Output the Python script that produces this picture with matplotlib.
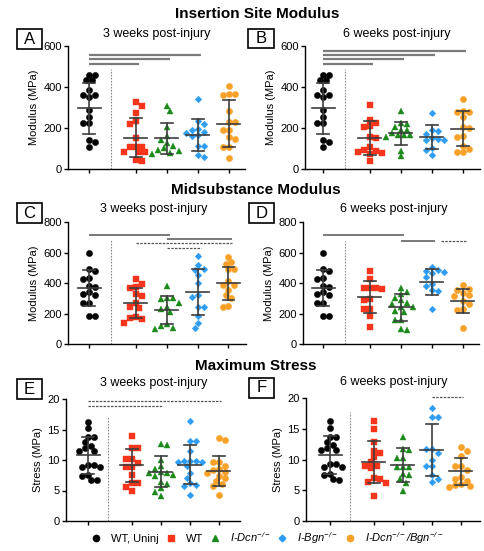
import numpy as np
import matplotlib.pyplot as plt
from matplotlib.lines import Line2D
from matplotlib.patches import Rectangle

plt.rcParams['font.family'] = ['Liberation Sans', 'DejaVu Sans']
plt.rcParams['mathtext.default'] = 'regular'

# ---------------- data ----------------
groups = ['WT, Uninj', 'WT', 'I-Dcn$^{-/-}$', 'I-Bgn$^{-/-}$', 'I-Dcn$^{-/-}$/Bgn$^{-/-}$']
colors = ['#000000', '#f7351c', '#1b8a1b', '#2d9cf2', '#f8a128']
markers = ['o', 's', '^', 'D', 'o']

# insertion site modulus (MPa)
ins_uninj = [460, 460, 433, 433, 384, 351, 362, 362, 286, 256, 225, 225, 142, 109, 131]
ins3_wt = [327, 307, 273, 219, 235, 150, 109, 106, 109, 85, 85, 85, 41, 46]
ins3_dcn = [307, 282, 206, 160, 140, 125, 110, 100, 95, 90, 80, 75]
ins3_bgn = [341, 233, 220, 196, 190, 180, 175, 165, 160, 114, 114, 69, 57]
ins3_dko = [405, 362, 367, 367, 282, 227, 227, 188, 188, 147, 155, 106, 109, 52]
ins6_wt = [310, 240, 225, 210, 205, 150, 155, 105, 95, 88, 85, 78, 75, 40]
ins6_dcn = [285, 225, 218, 205, 192, 190, 178, 168, 165, 165, 155, 90, 62]
ins6_bgn = [274, 192, 185, 170, 150, 145, 142, 140, 100, 95, 68]
ins6_dko = [340, 253, 278, 281, 278, 204, 201, 160, 155, 114, 85, 85, 98]
ins3_mean = [296, 153, 149, 168, 220]
ins3_sd = [125, 94, 77, 78, 115]
ins6_mean = [296, 150, 174, 157, 196]
ins6_sd = [125, 82, 57, 59, 85]

# midsubstance modulus (MPa)
mid_uninj = [597, 477, 490, 423, 433, 375, 383, 340, 320, 325, 266, 266, 183, 183]
mid3_wt = [423, 392, 371, 365, 331, 314, 266, 240, 233, 174, 170, 165, 140]
mid3_dcn = [382, 299, 295, 299, 270, 245, 230, 211, 130, 118, 96, 102]
mid3_bgn = [576, 517, 484, 495, 451, 400, 320, 310, 244, 244, 185, 135, 102]
mid3_dko = [571, 538, 527, 490, 490, 414, 385, 385, 352, 320, 300, 244, 248]
mid6_wt = [477, 428, 365, 365, 368, 362, 295, 290, 230, 228, 183, 113]
mid6_dcn = [370, 340, 330, 300, 290, 270, 265, 245, 240, 215, 210, 155, 155, 92, 98]
mid6_bgn = [505, 488, 480, 470, 466, 440, 395, 380, 353, 345, 227]
mid6_dko = [385, 360, 355, 320, 318, 335, 280, 262, 220, 228, 105]
mid3_mean = [367, 271, 222, 341, 398]
mid3_sd = [120, 98, 93, 153, 107]
mid6_mean = [367, 310, 240, 407, 282]
mid6_sd = [120, 104, 87, 88, 81]

# maximum stress (MPa)
str_uninj = [16.3, 15.2, 13.7, 13.7, 12.9, 12.3, 11.9, 11.5, 11.5, 9.2, 9.2, 8.8, 8.8, 7.6, 7.4, 6.8, 6.7]
str3_wt = [14.0, 11.9, 12.0, 10.2, 10.1, 9.5, 8.8, 8.8, 7.6, 6.3, 6.2, 5.6, 5.0]
str3_dcn = [12.5, 12.7, 10.0, 9.0, 8.5, 8.0, 7.8, 7.8, 7.6, 7.3, 6.4, 6.0, 5.4, 4.8, 4.1]
str3_bgn = [16.4, 13.1, 13.1, 11.4, 9.9, 9.8, 9.8, 9.7, 9.6, 9.0, 7.8, 7.0, 6.2, 5.9, 5.7, 4.3]
str3_dko = [13.6, 13.3, 9.7, 9.7, 9.0, 8.6, 8.3, 8.0, 7.8, 7.4, 7.0, 6.6, 6.0, 5.8, 4.3]
str6_wt = [16.2, 15.0, 12.9, 11.4, 11.1, 10.4, 9.6, 8.9, 8.9, 8.6, 7.0, 6.8, 6.2, 6.3, 4.0]
str6_dcn = [13.6, 11.7, 11.5, 10.3, 10.2, 8.8, 8.7, 8.7, 7.6, 7.4, 6.8, 6.2, 4.9]
str6_bgn = [18.3, 16.9, 16.9, 11.7, 11.7, 11.0, 10.0, 8.9, 8.9, 7.5, 6.8, 6.3]
str6_dko = [12.0, 11.4, 10.6, 8.9, 8.9, 8.3, 7.1, 6.9, 6.5, 6.0, 5.8, 5.7, 5.6]
str3_mean = [10.75, 9.1, 8.1, 9.2, 8.2]
str3_sd = [3.05, 2.7, 2.6, 3.2, 2.5]
str6_mean = [10.75, 9.6, 9.1, 11.5, 8.05]
str6_sd = [3.05, 3.4, 2.7, 4.2, 2.25]

# significance bars: (from group, to group, height, style)
sig_A = [(0, 3, 557, '-'), (0, 2, 535, '-'), (0, 1, 514, '-')]
sig_B = [(0, 4, 575, '-'), (0, 3, 557, '-'), (0, 2, 535, '-'), (0, 1, 514, '-')]
sig_C = [(0, 2, 715, '-'), (2, 4, 691, '-'), (1, 4, 663, '--'), (2, 3, 630, '--')]
sig_D = [(0, 2, 717, '-'), (2, 3, 675, '-'), (3, 4, 675, '--')]
sig_E = [(0, 4, 19.7, '--'), (0, 2, 18.9, '--')]
sig_F = [(3, 4, 20.15, '--')]

# ---------------- layout ----------------
W, H = 484, 551
xpos = np.array([0, 1.5, 2.5, 3.5, 4.5])
ms = {'o': 4.5, 's': 4.2, '^': 4.8, 'D': 3.4}

fig = plt.figure(figsize=(W / 100, H / 100), dpi=100)


def swarm(vals, px_per_unit, d=6.0):
    # greedy beeswarm in pixel space, keeps the cloud balanced left/right
    y = np.asarray(vals, float) * px_per_unit
    order = np.argsort(-y)
    placed = []
    offs = np.zeros(len(y))
    for idx in order:
        bal = sum(p[0] for p in placed)
        signs = (-1, 1) if bal > 0 else (1, -1)
        chosen = None
        for k in range(0, 14):
            for sg in (signs if k else (1,)):
                c = sg * k * d / 2
                if all((c - px) ** 2 + (y[idx] - py) ** 2 >= (0.95 * d) ** 2
                       for px, py in placed):
                    chosen = c
                    break
            if chosen is not None:
                break
        placed.append((chosen, y[idx]))
        offs[idx] = chosen
    return offs


def panel(box, bx, sp, ymax, yticks, ylabel, series, means, sds, sigs, sep_top,
          sig_lw, sig_col):
    x0, x1, ytop, ybot = box
    ax = fig.add_axes([x0 / W, 1 - ybot / H, (x1 - x0) / W, (ybot - ytop) / H])
    ax.set_xlim((x0 - bx) / sp, (x1 - bx) / sp)
    ax.set_ylim(0, ymax)
    px_y = (ybot - ytop) / ymax

    for k, vals in enumerate(series):
        offs = swarm(vals, px_y) / sp
        m = markers[k]
        ax.plot(xpos[k] + offs, vals, ls='none', marker=m, ms=ms[m],
                mfc=colors[k], mec=colors[k], mew=0.3, zorder=3)

    ebc = '#3d3d3d'
    mh, ch = 11.5 / sp, 6.0 / sp
    for k in range(5):
        x, mu, s = xpos[k], means[k], sds[k]
        ax.plot([x - mh, x + mh], [mu, mu], color=ebc, lw=1.2, zorder=4)
        ax.plot([x, x], [mu - s, mu + s], color=ebc, lw=1.2, zorder=4)
        ax.plot([x - ch, x + ch], [mu - s, mu - s], color=ebc, lw=1.2, zorder=4)
        ax.plot([x - ch, x + ch], [mu + s, mu + s], color=ebc, lw=1.2, zorder=4)

    ax.plot([0.7, 0.7], [0, sep_top], color='#8a8a8a', lw=0.8,
            ls=(0, (1.5, 1.2)), zorder=1)

    for (i, j, yy, style) in sigs:
        xa = xpos[i]
        if style == '--' and any(s[1] == i and s[2] == yy for s in sigs):
            xa += 0.3
        if style == '-':
            ax.plot([xa, xpos[j] + 0.1], [yy, yy], color=sig_col, lw=sig_lw,
                    solid_capstyle='butt', clip_on=False)
        else:
            ax.plot([xa, xpos[j] + 0.1], [yy, yy], color='#555555', lw=0.9,
                    ls=(0, (2, 1)), clip_on=False)

    for side in ['top', 'right']:
        ax.spines[side].set_visible(False)
    for side in ['left', 'bottom']:
        ax.spines[side].set_linewidth(1.0)
    ax.set_xticks(xpos)
    ax.set_xticklabels([])
    ax.set_yticks(yticks)
    ax.tick_params(axis='both', direction='out', length=3, width=1.0,
                   labelsize=8, pad=1.5)
    ax.set_ylabel(ylabel, fontsize=8, labelpad=3)
    return ax


panel((68, 245, 46, 169), 89, 31, 600, [0, 200, 400, 600], 'Modulus (MPa)',
      [ins_uninj, ins3_wt, ins3_dcn, ins3_bgn, ins3_dko], ins3_mean, ins3_sd,
      sig_A, 487, 1.6, '#7a7a7a')
panel((305, 480, 46, 169), 323, 31, 600, [0, 200, 400, 600], 'Modulus (MPa)',
      [ins_uninj, ins6_wt, ins6_dcn, ins6_bgn, ins6_dko], ins6_mean, ins6_sd,
      sig_B, 487, 1.6, '#7a7a7a')
panel((68, 246, 222, 344), 89, 31, 800, [0, 200, 400, 600, 800], 'Modulus (MPa)',
      [mid_uninj, mid3_wt, mid3_dcn, mid3_bgn, mid3_dko], mid3_mean, mid3_sd,
      sig_C, 680, 1.1, '#555555')
panel((303, 479, 222, 344), 323, 31, 800, [0, 200, 400, 600, 800], 'Modulus (MPa)',
      [mid_uninj, mid6_wt, mid6_dcn, mid6_bgn, mid6_dko], mid6_mean, mid6_sd,
      sig_D, 676, 1.1, '#555555')
panel((66, 240, 399, 521), 88, 29, 20, [0, 5, 10, 15, 20], 'Stress (MPa)',
      [str_uninj, str3_wt, str3_dcn, str3_bgn, str3_dko], str3_mean, str3_sd,
      sig_E, 17.2, 1.1, '#555555')
panel((306, 480, 398, 521), 330, 29, 20, [0, 5, 10, 15, 20], 'Stress (MPa)',
      [str_uninj, str6_wt, str6_dcn, str6_bgn, str6_dko], str6_mean, str6_sd,
      sig_F, 17.7, 1.1, '#555555')


def ftext(x, y, s, **kw):
    fig.text(x / W, 1 - y / H, s, ha='center', va='center', **kw)


# section headings
ftext(257, 14, 'Insertion Site Modulus', fontsize=11, fontweight='bold')
ftext(256, 190, 'Midsubstance Modulus', fontsize=11, fontweight='bold')
ftext(256, 366, 'Maximum Stress', fontsize=11, fontweight='bold')

# panel sub-titles
ftext(157, 34, '3 weeks post-injury', fontsize=9)
ftext(397, 34, '6 weeks post-injury', fontsize=9)
ftext(154, 209, '3 weeks post-injury', fontsize=9)
ftext(394, 209, '6 weeks post-injury', fontsize=9)
ftext(154, 383, '3 weeks post-injury', fontsize=9)
ftext(394, 382, '6 weeks post-injury', fontsize=9)

# panel letters in boxes
for letter, (bx0, by0, bx1, by1) in zip('ABCDEF', [(17, 29, 42, 49), (248, 29, 274, 48),
                                                   (17, 203, 42, 223), (249, 203, 274, 223),
                                                   (17, 379, 42, 399), (249, 378, 274, 398)]):
    fig.patches.append(Rectangle((bx0 / W, 1 - by1 / H), (bx1 - bx0) / W, (by1 - by0) / H,
                                 transform=fig.transFigure, fill=False, lw=1.2,
                                 edgecolor='black'))
    ftext((bx0 + bx1) / 2, (by0 + by1) / 2, letter, fontsize=12)

# legend
handles = [Line2D([], [], ls='none', marker=markers[k], ms=ms[markers[k]],
                  mfc=colors[k], mec=colors[k]) for k in range(5)]
leg = fig.legend(handles, groups, loc='center', bbox_to_anchor=(268 / W, 1 - 538 / H),
                 ncol=5, frameon=False, fontsize=8, handlelength=0.8,
                 handletextpad=0.95, columnspacing=0.65)
for t in leg.get_texts()[2:]:
    t.set_fontstyle('italic')

fig.savefig('out.png', dpi=100)
